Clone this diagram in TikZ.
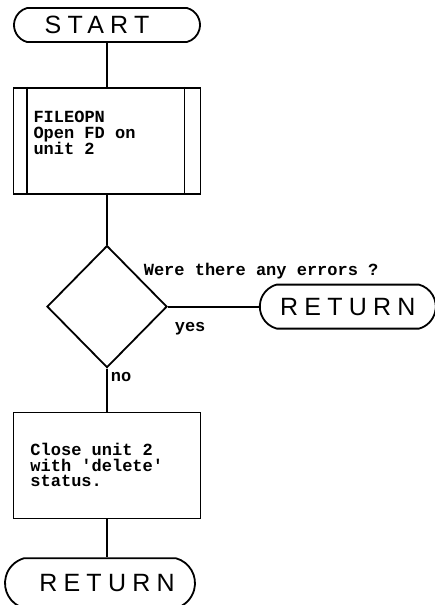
\documentclass[tikz,border=0pt]{standalone}
\usepackage{fontspec}
\setmainfont{Liberation Sans}
\setmonofont{Liberation Mono}
\newfontfamily\termfont[LetterSpace=25]{Liberation Sans}
\usetikzlibrary{positioning,shapes.geometric,shapes.misc,calc}

\begin{document}
\begin{tikzpicture}[
  x=1pt,y=1pt,
  line width=1.8pt,
  node distance=45pt and 91pt,
  terminal/.style={
    draw,
    rounded rectangle,
    rounded rectangle arc length=150,
    inner sep=0pt,
    font=\termfont\fontsize{25}{25}\selectfont
  },
  process/.style={
    draw,
    align=left,
    minimum height=106pt,
    inner ysep=0pt,
    font=\ttfamily\bfseries\fontsize{17}{15.5}\selectfont,
    execute at begin node={\spaceskip=10.2pt\relax}
  },
  decision/.style={
    draw,
    diamond,
    inner sep=0pt,
    minimum width=120pt,
    minimum height=122pt
  },
  lbl/.style={font=\ttfamily\bfseries\fontsize{17}{15.5}\selectfont,inner sep=0pt}
]
\useasboundingbox (0,0) rectangle (435,-605);

\node[terminal,minimum width=186pt,minimum height=34pt] (start) at (107,-25) {START\hspace{20pt}\mbox{}};
\node[process,below=44pt of start,inner xsep=20pt,text width=147pt] (fileopn) {FILEOPN\\Open FD on\\unit 2\\\mbox{}};
\node[decision,below=50pt of fileopn] (errors) {};
\node[terminal,right=91pt of errors,minimum width=176pt,minimum height=44pt] (ret1) {RETURN};
\node[process,below=43pt of errors,inner xsep=17pt,text width=153pt] (close) {Close unit 2\\with 'delete'\\status.};
\node[terminal,below=38pt of close,xshift=-7pt,minimum width=190pt,minimum height=50pt] (ret2) {\hspace{14pt}RETURN};

% side bars of the subroutine box
\draw ($(fileopn.north west)+(14,0)$) -- ($(fileopn.south west)+(14,0)$);
\draw ($(fileopn.north east)+(-17,0)$) -- ($(fileopn.south east)+(-17,0)$);

\node[lbl,anchor=base west] (question) at ($(errors.east)+(-25,31)$) {Were there any errors ?};

\draw (start) -- (fileopn);
\draw (fileopn) -- (errors);
\draw (errors.east) -- node[pos=0,lbl,anchor=north west,xshift=6pt,yshift=-15pt]{yes} (ret1);
\draw (errors.south) -- node[pos=0,lbl,anchor=north west,xshift=3pt,yshift=-3pt]{no} (close);
\draw (close) -- (ret2.north -| close.south);
\end{tikzpicture}
\end{document}
